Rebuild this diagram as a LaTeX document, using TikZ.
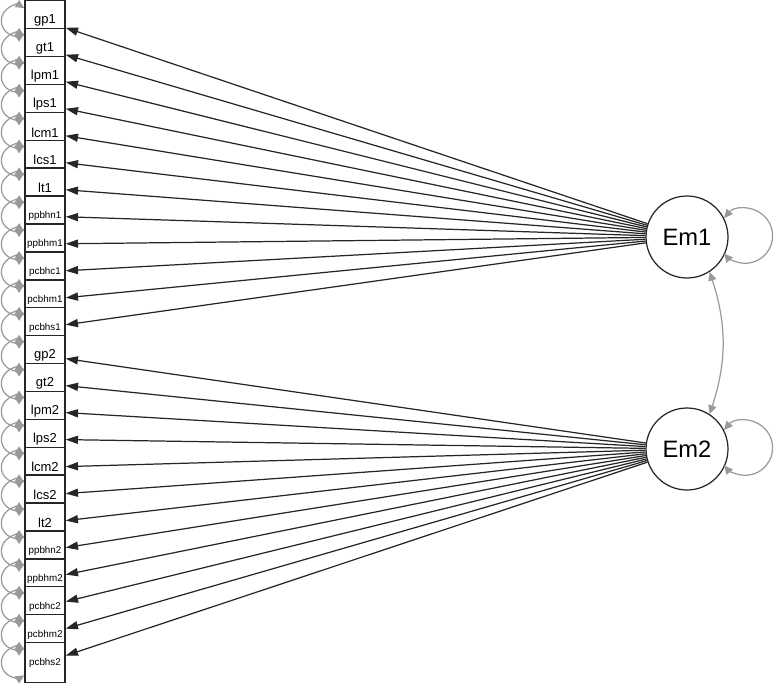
\documentclass[tikz,border=0pt]{standalone}
\usepackage{fontspec}
\setmainfont{Liberation Sans}
\usetikzlibrary{arrows.meta}

\newcommand{\obsfont}{\fontsize{7.4}{8}\selectfont}
\newcommand{\obsfontsm}{\fontsize{5.6}{6}\selectfont}

\begin{document}
\begin{tikzpicture}[x=0.02cm, y=-0.02cm,
  obs/.style={draw=black!85, fill=white, line width=0.8pt, minimum size=0.8cm, inner sep=0pt, font=\obsfont},
  lat/.style={draw=black!85, circle, fill=white, line width=0.7pt, minimum size=1.64cm, inner sep=0pt, font=\fontsize{13.5}{15}\selectfont},
  load/.style={-{Triangle[length=7pt,width=4.6pt]}, black!85, line width=0.7pt},
  res/.style={{Triangle[length=5pt,width=4.6pt]}-{Triangle[length=5pt,width=4.6pt]}, black!40, line width=0.7pt}]
\useasboundingbox (0,0) rectangle (776,685);

% manifest variables
\foreach \g in {1,2} {
  \foreach \lab [count=\j from 0] in {gp,gt,lpm,lps,lcm,lcs,lt,ppbhn,ppbhm,pcbhc,pcbhm,pcbhs} {
    \pgfmathsetmacro{\yy}{20.8+27.9*(12*(\g-1)+\j)}
    \node[obs] (\lab\g) at (45,\yy) {\ifnum\j>6 \obsfontsm\fi\lab\g};
  }
}

% latent variables
\node[lat] (Em1) at (687,237) {Em1};
\node[lat] (Em2) at (687,449) {Em2};

% loadings
\foreach \g in {1,2} {
  \foreach \lab in {gp,gt,lpm,lps,lcm,lcs,lt,ppbhn,ppbhm,pcbhc,pcbhm,pcbhs} {
    \draw[load] (Em\g) -- (\lab\g);
  }
}

% residuals
\foreach \g in {1,2} {
  \foreach \lab in {gp,gt,lpm,lps,lcm,lcs,lt,ppbhn,ppbhm,pcbhc,pcbhm,pcbhs} {
    \draw[res] ([yshift=7.2pt]\lab\g.west) arc[start angle=58, end angle=302, radius=0.3cm];
  }
}
\draw[res] (Em1.27) arc[start angle=140, end angle=-140, radius=0.55cm];
\draw[res] (Em2.27) arc[start angle=140, end angle=-140, radius=0.55cm];

% covariance
\draw[res] (Em1.-57) to[bend left=18] (Em2.57);
\end{tikzpicture}
\end{document}
